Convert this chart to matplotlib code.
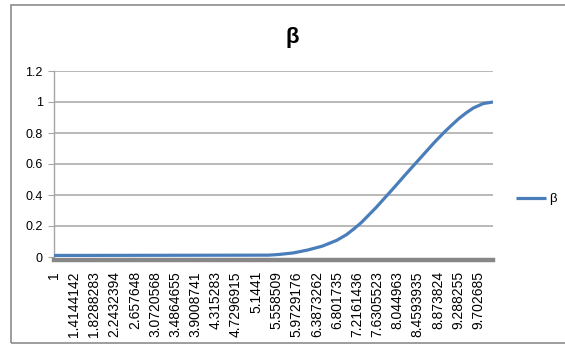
import matplotlib
matplotlib.use("Agg")
import matplotlib.pyplot as plt
from matplotlib.patches import Rectangle

# category labels along the bottom axis
x_labels = ["1", "1.4144142", "1.8288283", "2.2432394", "2.657648", "3.0720568",
            "3.4864655", "3.9008741", "4.315283", "4.7296915", "5.1441", "5.558509",
            "5.9729176", "6.3873262", "6.801735", "7.2161436", "7.6305523", "8.044963",
            "8.4593935", "8.873824", "9.288255", "9.702685"]

# beta curve
x_vals = [1.0, 5.4, 5.6, 5.9, 6.2, 6.5, 6.8, 7.0, 7.15, 7.3, 7.45, 7.6, 7.8, 8.0,
          8.2, 8.4, 8.6, 8.8, 9.0, 9.15, 9.3, 9.45, 9.6, 9.8, 10.0]
beta = [0.01, 0.012, 0.016, 0.026, 0.045, 0.07, 0.108, 0.145, 0.182, 0.222, 0.27,
        0.318, 0.388, 0.458, 0.53, 0.6, 0.67, 0.74, 0.805, 0.85, 0.893, 0.93,
        0.962, 0.99, 1.0]

y_ticks = [0, 0.2, 0.4, 0.6, 0.8, 1, 1.2]
y_labels = ["0", "0.2", "0.4", "0.6", "0.8", "1", "1.2"]

plt.rcParams['font.family'] = ['Liberation Sans', 'DejaVu Sans']

W, H = 565, 345
fig = plt.figure(figsize=(W / 100, H / 100), dpi=100)

# chart area frame
fig.patches.append(Rectangle((11 / W, 1 - 343 / H), 600 / W, 338 / H,
                             transform=fig.transFigure, fill=False,
                             edgecolor="#8c8c8c", linewidth=1.2))

ax = fig.add_axes([54 / W, (H - 257) / H, (493 - 54) / W, (257 - 71) / H])
ax.set_xlim(1, 10)
ax.set_ylim(0, 1.2)

for yv in y_ticks[1:]:
    ax.axhline(yv, color="#a6a6a6", linewidth=1.1, zorder=1)

line, = ax.plot(x_vals, beta, color="#4a7ebb", linewidth=2.3, label="β",
                solid_capstyle="butt", solid_joinstyle="round", zorder=3)

ax.set_yticks(y_ticks)
ax.set_yticklabels(y_labels, fontsize=9)
ax.tick_params(axis="y", length=4, color="#a6a6a6", pad=4)

ax.set_xticks([float(v) for v in x_labels])
ax.set_xticklabels(x_labels, fontsize=8.2)
ax.tick_params(axis="x", length=0, pad=8, labelrotation=90)

for side in ["top", "right"]:
    ax.spines[side].set_visible(False)
ax.spines["left"].set_color("#a6a6a6")
ax.spines["left"].set_linewidth(1)
ax.spines["bottom"].set_color("#878787")
ax.spines["bottom"].set_linewidth(3.2)
ax.spines["bottom"].set_position(("outward", 2.2))

fig.text(292 / W, 1 - 38 / H, "β", ha="center", va="center",
         fontsize=16, fontweight="bold")

fig.legend(handles=[line], loc="center left", bbox_to_anchor=(516 / W, 1 - 199 / H),
           frameon=False, fontsize=9.5, handlelength=2.3, handletextpad=0.2,
           borderpad=0, borderaxespad=0)

fig.savefig("out.png", dpi=100)
